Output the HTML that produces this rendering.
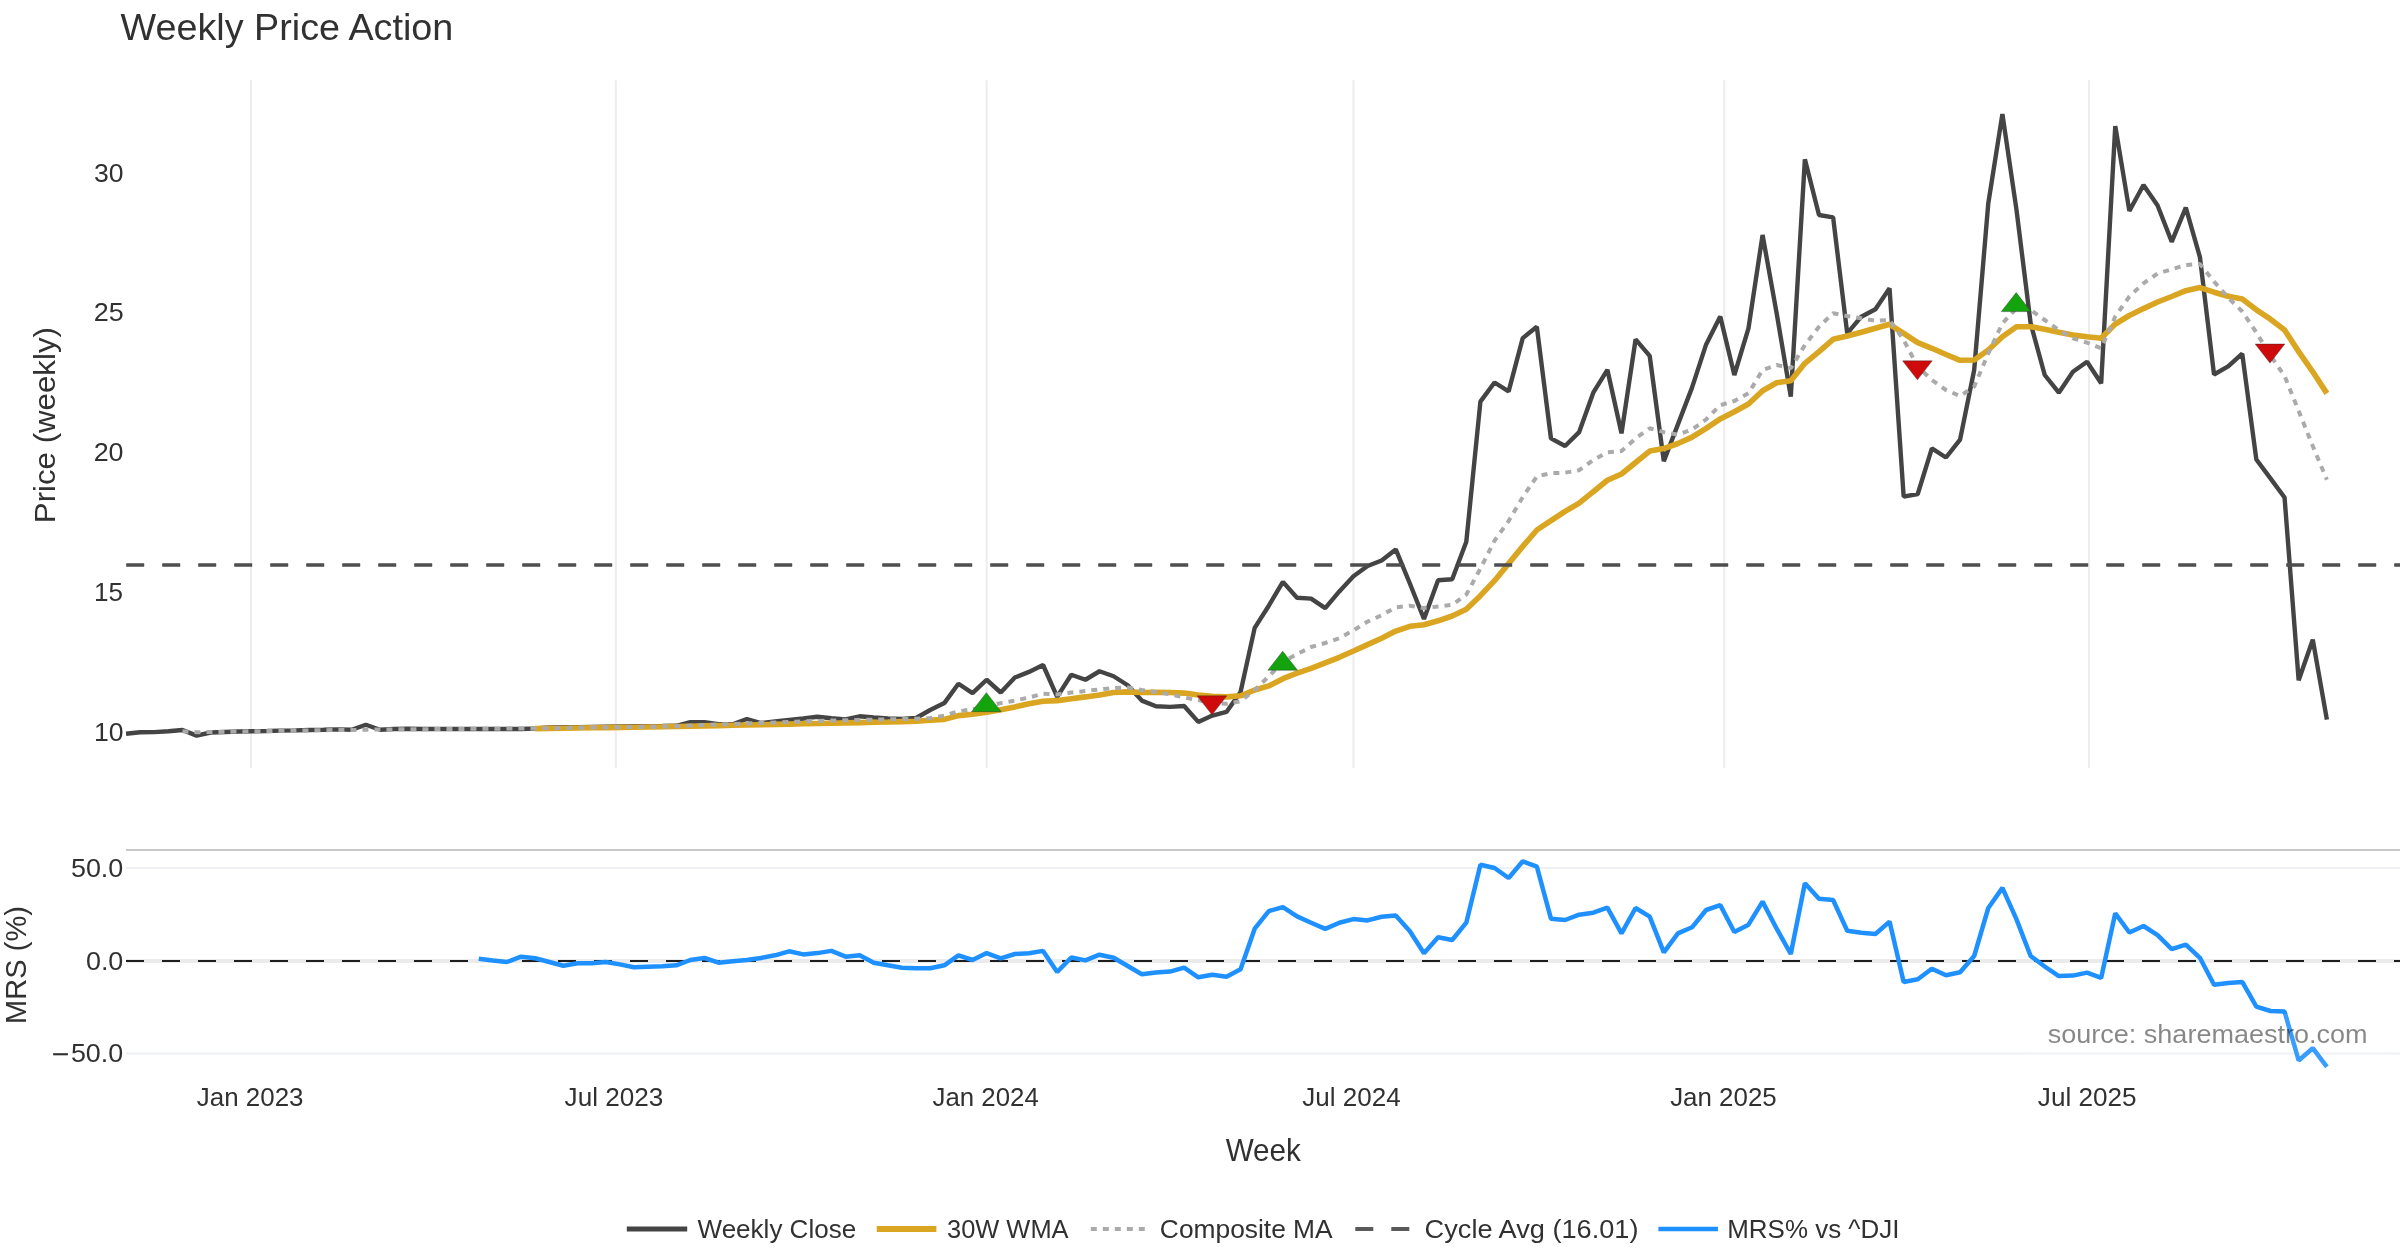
<!DOCTYPE html>
<html><head><meta charset="utf-8"><title>Weekly Price Action</title>
<style>
html,body{margin:0;padding:0;background:#fff;}
body{width:2400px;height:1260px;overflow:hidden;}
svg{display:block;will-change:transform;}
text{font-family:"Liberation Sans",sans-serif;}
</style></head>
<body>
<svg width="2400" height="1260" viewBox="0 0 2400 1260">
<rect x="0" y="0" width="2400" height="1260" fill="#ffffff"/>
<line x1="251.00" y1="80.2" x2="251.00" y2="768" stroke="#ececf1" stroke-width="2"/>
<line x1="615.79" y1="80.2" x2="615.79" y2="768" stroke="#ececf1" stroke-width="2"/>
<line x1="986.62" y1="80.2" x2="986.62" y2="768" stroke="#ececf1" stroke-width="2"/>
<line x1="1353.43" y1="80.2" x2="1353.43" y2="768" stroke="#ececf1" stroke-width="2"/>
<line x1="1724.26" y1="80.2" x2="1724.26" y2="768" stroke="#ececf1" stroke-width="2"/>
<line x1="2089.05" y1="80.2" x2="2089.05" y2="768" stroke="#ececf1" stroke-width="2"/>
<line x1="126" y1="868.1" x2="2400" y2="868.1" stroke="#eef0f3" stroke-width="2"/>
<line x1="126" y1="1053.6" x2="2400" y2="1053.6" stroke="#eef0f3" stroke-width="2"/>
<line x1="126" y1="961" x2="2400" y2="961" stroke="#ebebeb" stroke-width="4"/>
<line x1="126" y1="850" x2="2400" y2="850" stroke="#c8c8c8" stroke-width="2"/>
<polyline points="126.05,733.75 140.16,732.25 154.27,732.10 168.37,731.25 182.48,730.00 196.59,735.60 210.70,732.50 224.81,732.00 238.91,731.50 253.02,731.25 267.13,731.00 281.24,730.60 295.34,730.40 309.45,730.00 323.56,729.75 337.67,729.40 351.78,729.75 365.88,724.75 379.99,729.75 394.10,729.00 408.21,728.75 422.32,729.00 436.42,729.00 450.53,729.00 464.64,729.00 478.75,729.00 492.86,729.00 506.96,729.00 521.07,729.00 535.18,728.50 549.29,727.50 563.39,727.30 577.50,727.10 591.61,726.90 605.72,726.70 619.83,726.50 633.93,726.30 648.04,726.10 662.15,726.00 676.26,725.80 690.37,722.20 704.47,722.20 718.58,724.20 732.69,724.20 746.80,719.00 760.91,723.00 775.01,721.50 789.12,720.00 803.23,718.50 817.34,716.80 831.44,718.30 845.55,719.50 859.66,716.30 873.77,717.50 887.88,718.50 901.98,719.00 916.09,718.00 930.20,710.00 944.31,703.10 958.42,683.75 972.52,693.10 986.63,679.75 1000.74,692.50 1014.85,677.50 1028.96,671.90 1043.06,665.00 1057.17,696.90 1071.28,674.75 1085.39,679.75 1099.50,671.25 1113.60,676.25 1127.71,685.25 1141.82,700.60 1155.93,706.25 1170.03,706.90 1184.14,706.00 1198.25,721.90 1212.36,715.60 1226.47,711.90 1240.57,692.00 1254.68,627.90 1268.79,605.70 1282.90,581.90 1297.01,597.80 1311.11,598.60 1325.22,608.10 1339.33,591.40 1353.44,576.30 1367.55,566.00 1381.65,560.50 1395.76,549.40 1409.87,583.50 1423.98,619.00 1438.08,580.30 1452.19,579.20 1466.30,541.80 1480.41,401.60 1494.52,382.50 1508.62,391.40 1522.73,338.10 1536.84,326.70 1550.95,438.40 1565.06,446.00 1579.16,432.10 1593.27,392.70 1607.38,369.80 1621.49,433.30 1635.60,339.40 1649.70,355.90 1663.81,461.30 1677.92,424.40 1692.03,387.60 1706.13,344.40 1720.24,316.60 1734.35,375.00 1748.46,328.30 1762.57,235.00 1776.67,313.30 1790.78,396.70 1804.89,159.30 1819.00,215.00 1833.11,217.30 1847.21,333.30 1861.32,316.70 1875.43,309.30 1889.54,288.30 1903.65,496.70 1917.75,494.00 1931.86,448.30 1945.97,457.50 1960.08,439.60 1974.18,370.00 1988.29,203.30 2002.40,114.00 2016.51,210.00 2030.62,323.30 2044.72,375.00 2058.83,392.70 2072.94,371.70 2087.05,361.70 2101.16,383.30 2115.26,126.00 2129.37,211.00 2143.48,185.00 2157.59,205.50 2171.70,241.80 2185.80,207.60 2199.91,257.10 2214.02,374.50 2228.13,366.40 2242.24,353.70 2256.34,459.50 2270.45,478.40 2284.56,497.50 2298.67,680.30 2312.77,639.70 2326.88,719.70" fill="none" stroke="#444444" stroke-width="4.4" stroke-linejoin="bevel"/>
<polyline points="535.18,728.60 549.29,728.40 563.39,728.20 577.50,728.00 591.61,727.80 605.72,727.60 619.83,727.40 633.93,727.20 648.04,727.00 662.15,726.80 676.26,726.50 690.37,726.20 704.47,725.90 718.58,725.60 732.69,725.30 746.80,725.00 760.91,724.70 775.01,724.40 789.12,724.10 803.23,723.80 817.34,723.50 831.44,723.20 845.55,722.90 859.66,722.60 873.77,722.30 887.88,722.00 901.98,721.60 916.09,721.20 930.20,720.30 944.31,719.40 958.42,715.60 972.52,714.20 986.63,712.25 1000.74,709.75 1014.85,706.90 1028.96,703.75 1043.06,701.25 1057.17,700.60 1071.28,698.75 1085.39,696.90 1099.50,695.00 1113.60,692.50 1127.71,691.90 1141.82,692.50 1155.93,692.25 1170.03,692.50 1184.14,693.10 1198.25,695.00 1212.36,696.25 1226.47,696.90 1240.57,695.80 1254.68,690.00 1268.79,685.90 1282.90,678.70 1297.01,673.20 1311.11,668.40 1325.22,662.90 1339.33,657.30 1353.44,651.00 1367.55,644.60 1381.65,638.30 1395.76,631.10 1409.87,626.30 1423.98,624.80 1438.08,620.80 1452.19,616.00 1466.30,609.20 1480.41,595.70 1494.52,580.70 1508.62,563.60 1522.73,546.40 1536.84,530.00 1550.95,520.70 1565.06,511.40 1579.16,503.20 1593.27,491.70 1607.38,480.30 1621.49,474.00 1635.60,462.50 1649.70,451.10 1663.81,448.60 1677.92,443.50 1692.03,437.10 1706.13,428.30 1720.24,418.90 1734.35,411.70 1748.46,404.00 1762.57,390.70 1776.67,382.70 1790.78,380.70 1804.89,363.30 1819.00,351.70 1833.11,339.30 1847.21,336.00 1861.32,332.30 1875.43,328.30 1889.54,324.30 1903.65,333.30 1917.75,342.70 1931.86,348.30 1945.97,354.50 1960.08,360.30 1974.18,360.00 1988.29,350.00 2002.40,336.70 2016.51,326.70 2030.62,326.70 2044.72,329.30 2058.83,332.30 2072.94,335.00 2087.05,336.70 2101.16,338.30 2115.26,324.00 2129.37,315.50 2143.48,308.60 2157.59,302.00 2171.70,296.50 2185.80,290.70 2199.91,287.60 2214.02,292.20 2228.13,296.30 2242.24,299.00 2256.34,309.80 2270.45,319.20 2284.56,330.00 2298.67,351.60 2312.77,371.80 2326.88,393.40" fill="none" stroke="#DAA520" stroke-width="5.6" stroke-linejoin="bevel"/>
<polyline points="182.48,731.25 196.59,732.25 210.70,732.00 224.81,731.80 238.91,731.50 253.02,731.30 267.13,731.00 281.24,730.80 295.34,730.60 309.45,730.40 323.56,730.20 337.67,730.00 351.78,730.00 365.88,729.75 379.99,729.50 394.10,729.40 408.21,729.30 422.32,729.20 436.42,729.10 450.53,729.00 464.64,728.90 478.75,728.80 492.86,728.70 506.96,728.60 521.07,728.50 535.18,728.40 549.29,728.20 563.39,728.00 577.50,727.80 591.61,727.60 605.72,727.40 619.83,727.20 633.93,727.00 648.04,726.80 662.15,726.60 676.26,726.20 690.37,725.60 704.47,725.00 718.58,724.50 732.69,724.00 746.80,723.50 760.91,723.00 775.01,722.50 789.12,722.00 803.23,721.25 817.34,720.90 831.44,720.60 845.55,720.30 859.66,720.00 873.77,719.70 887.88,719.40 901.98,719.10 916.09,718.75 930.20,718.00 944.31,715.60 958.42,711.25 972.52,709.40 986.63,706.25 1000.74,703.10 1014.85,700.60 1028.96,697.50 1043.06,693.75 1057.17,694.40 1071.28,692.50 1085.39,691.00 1099.50,689.40 1113.60,688.10 1127.71,687.50 1141.82,690.00 1155.93,691.90 1170.03,694.40 1184.14,697.50 1198.25,700.00 1212.36,703.10 1226.47,703.75 1240.57,701.25 1254.68,690.00 1268.79,676.30 1282.90,662.00 1297.01,654.10 1311.11,647.00 1325.22,643.00 1339.33,638.30 1353.44,630.30 1367.55,621.60 1381.65,615.20 1395.76,607.30 1409.87,605.70 1423.98,608.10 1438.08,606.50 1452.19,604.90 1466.30,594.60 1480.41,568.60 1494.52,540.70 1508.62,521.10 1522.73,497.10 1536.84,476.40 1550.95,473.20 1565.06,472.70 1579.16,470.20 1593.27,460.00 1607.38,452.40 1621.49,451.10 1635.60,438.40 1649.70,428.30 1663.81,432.10 1677.92,434.60 1692.03,429.50 1706.13,419.40 1720.24,405.20 1734.35,401.00 1748.46,393.30 1762.57,370.00 1776.67,365.00 1790.78,368.30 1804.89,345.00 1819.00,326.70 1833.11,313.30 1847.21,316.00 1861.32,318.30 1875.43,320.70 1889.54,320.00 1903.65,340.00 1917.75,366.70 1931.86,380.00 1945.97,390.00 1960.08,396.00 1974.18,386.70 1988.29,353.30 2002.40,323.30 2016.51,308.30 2030.62,310.00 2044.72,320.00 2058.83,330.00 2072.94,338.30 2087.05,342.70 2101.16,348.30 2115.26,316.50 2129.37,296.50 2143.48,283.30 2157.59,273.50 2171.70,269.30 2185.80,265.00 2199.91,264.00 2214.02,281.50 2228.13,297.60 2242.24,311.50 2256.34,332.50 2270.45,355.50 2284.56,376.00 2298.67,411.00 2312.77,446.00 2326.88,479.80" fill="none" stroke="#aaaaaa" stroke-width="4" stroke-dasharray="6,6" stroke-linejoin="bevel"/>
<line x1="126.2" y1="565.0" x2="2400" y2="565.0" stroke="#4e4e4e" stroke-width="3.6" stroke-dasharray="18,18"/>
<path d="M971.60,711.65 L1001.20,711.65 L986.40,692.65 Z" fill="#13a40d" stroke="#2a2a2a" stroke-opacity="0.45" stroke-width="0.9" stroke-linejoin="miter"/>
<path d="M1197.20,695.85 L1226.80,695.85 L1212.00,714.85 Z" fill="#cf0a0a" stroke="#2a2a2a" stroke-opacity="0.45" stroke-width="0.9" stroke-linejoin="miter"/>
<path d="M1267.90,670.20 L1297.50,670.20 L1282.70,651.20 Z" fill="#13a40d" stroke="#2a2a2a" stroke-opacity="0.45" stroke-width="0.9" stroke-linejoin="miter"/>
<path d="M1902.60,360.85 L1932.20,360.85 L1917.40,379.85 Z" fill="#cf0a0a" stroke="#2a2a2a" stroke-opacity="0.45" stroke-width="0.9" stroke-linejoin="miter"/>
<path d="M2001.40,311.60 L2031.00,311.60 L2016.20,292.60 Z" fill="#13a40d" stroke="#2a2a2a" stroke-opacity="0.45" stroke-width="0.9" stroke-linejoin="miter"/>
<path d="M2255.20,344.05 L2284.80,344.05 L2270.00,363.05 Z" fill="#cf0a0a" stroke="#2a2a2a" stroke-opacity="0.45" stroke-width="0.9" stroke-linejoin="miter"/>
<line x1="126" y1="961" x2="2400" y2="961" stroke="#1e1e1e" stroke-width="2" stroke-dasharray="18,18"/>
<polyline points="478.75,958.70 492.86,960.40 506.96,962.00 521.07,956.70 535.18,958.30 549.29,962.00 563.39,965.70 577.50,963.30 591.61,963.30 605.72,962.00 619.83,964.40 633.93,967.30 648.04,966.70 662.15,966.30 676.26,965.30 690.37,960.00 704.47,958.00 718.58,962.70 732.69,961.30 746.80,960.00 760.91,958.00 775.01,955.30 789.12,951.30 803.23,954.40 817.34,953.10 831.44,950.90 845.55,956.70 859.66,955.30 873.77,962.70 887.88,965.30 901.98,967.70 916.09,968.30 930.20,968.30 944.31,965.30 958.42,955.30 972.52,960.00 986.63,953.10 1000.74,958.40 1014.85,954.00 1028.96,953.30 1043.06,950.90 1057.17,972.00 1071.28,957.50 1085.39,960.40 1099.50,954.70 1113.60,957.70 1127.71,966.00 1141.82,974.30 1155.93,972.40 1170.03,971.60 1184.14,967.60 1198.25,977.30 1212.36,974.70 1226.47,976.70 1240.57,969.30 1254.68,928.70 1268.79,911.10 1282.90,907.10 1297.01,916.40 1311.11,922.70 1325.22,928.90 1339.33,922.70 1353.44,919.10 1367.55,920.40 1381.65,916.70 1395.76,915.60 1409.87,931.30 1423.98,953.30 1438.08,937.30 1452.19,940.00 1466.30,922.70 1480.41,864.70 1494.52,868.00 1508.62,878.00 1522.73,861.30 1536.84,866.70 1550.95,918.70 1565.06,920.00 1579.16,914.70 1593.27,912.70 1607.38,907.60 1621.49,933.30 1635.60,908.00 1649.70,916.70 1663.81,952.40 1677.92,933.40 1692.03,927.30 1706.13,910.00 1720.24,905.10 1734.35,932.00 1748.46,924.70 1762.57,901.60 1776.67,928.70 1790.78,954.00 1804.89,883.30 1819.00,898.70 1833.11,900.00 1847.21,930.70 1861.32,932.70 1875.43,934.00 1889.54,921.60 1903.65,982.00 1917.75,979.30 1931.86,968.70 1945.97,975.30 1960.08,972.20 1974.18,956.00 1988.29,908.00 2002.40,887.90 2016.51,919.40 2030.62,956.00 2044.72,966.50 2058.83,976.10 2072.94,975.60 2087.05,972.60 2101.16,977.90 2115.26,913.30 2129.37,932.50 2143.48,926.00 2157.59,935.10 2171.70,949.10 2185.80,944.70 2199.91,957.80 2214.02,984.80 2228.13,983.10 2242.24,981.90 2256.34,1006.70 2270.45,1011.00 2284.56,1011.60 2298.67,1060.50 2312.77,1048.20 2326.88,1066.90" fill="none" stroke="#1E90FF" stroke-width="4.5" stroke-linejoin="bevel"/>
<rect x="2026" y="1014" width="364" height="58" fill="#ffffff" fill-opacity="0.12"/>
<text x="2047.74" y="1043.10" font-size="25.5" fill="#000000" textLength="319.84" lengthAdjust="spacingAndGlyphs" fill-opacity="0.47">source: sharemaestro.com</text>
<text x="120.56" y="39.80" font-size="36.4" fill="#313131" textLength="332.71" lengthAdjust="spacingAndGlyphs">Weekly Price Action</text>
<text x="93.99" y="181.70" font-size="25" fill="#313131" textLength="29.55" lengthAdjust="spacingAndGlyphs">30</text>
<text x="93.65" y="321.45" font-size="25" fill="#313131" textLength="29.99" lengthAdjust="spacingAndGlyphs">25</text>
<text x="93.66" y="461.20" font-size="25" fill="#313131" textLength="29.90" lengthAdjust="spacingAndGlyphs">20</text>
<text x="94.02" y="600.95" font-size="25" fill="#313131" textLength="28.98" lengthAdjust="spacingAndGlyphs">15</text>
<text x="93.98" y="740.70" font-size="25" fill="#313131" textLength="29.56" lengthAdjust="spacingAndGlyphs">10</text>
<text x="70.92" y="876.70" font-size="25" fill="#313131" textLength="52.44" lengthAdjust="spacingAndGlyphs">50.0</text>
<text x="85.95" y="969.60" font-size="25" fill="#313131" textLength="37.40" lengthAdjust="spacingAndGlyphs">0.0</text>
<rect x="53.1" y="1053.2" width="14.8" height="2.1" fill="#313131"/>
<text x="70.92" y="1062.00" font-size="25" fill="#313131" textLength="52.33" lengthAdjust="spacingAndGlyphs">50.0</text>
<text x="196.89" y="1106.00" font-size="25" fill="#313131" textLength="106.65" lengthAdjust="spacingAndGlyphs">Jan 2023</text>
<text x="564.62" y="1106.00" font-size="25" fill="#313131" textLength="98.81" lengthAdjust="spacingAndGlyphs">Jul 2023</text>
<text x="932.51" y="1106.00" font-size="25" fill="#313131" textLength="106.26" lengthAdjust="spacingAndGlyphs">Jan 2024</text>
<text x="1302.26" y="1106.00" font-size="25" fill="#313131" textLength="98.42" lengthAdjust="spacingAndGlyphs">Jul 2024</text>
<text x="1670.15" y="1106.00" font-size="25" fill="#313131" textLength="106.60" lengthAdjust="spacingAndGlyphs">Jan 2025</text>
<text x="2037.89" y="1106.00" font-size="25" fill="#313131" textLength="98.76" lengthAdjust="spacingAndGlyphs">Jul 2025</text>
<text x="1225.65" y="1160.90" font-size="30.5" fill="#313131" textLength="75.32" lengthAdjust="spacingAndGlyphs">Week</text>
<text transform="translate(54.80,523.16) rotate(-90)" x="0" y="0" font-size="30.2" fill="#313131" textLength="196.09" lengthAdjust="spacingAndGlyphs">Price (weekly)</text>
<text transform="translate(25.90,1023.88) rotate(-90)" x="0" y="0" font-size="30.2" fill="#313131" textLength="117.79" lengthAdjust="spacingAndGlyphs">MRS (%)</text>
<line x1="626.8" y1="1228.9" x2="687.2" y2="1228.9" stroke="#444444" stroke-width="5"/>
<text x="697.57" y="1237.90" font-size="25.4" fill="#313131" textLength="158.57" lengthAdjust="spacingAndGlyphs">Weekly Close</text>
<line x1="876.8" y1="1228.9" x2="936.4" y2="1228.9" stroke="#DAA520" stroke-width="6"/>
<text x="947.03" y="1237.90" font-size="25.4" fill="#313131" textLength="121.51" lengthAdjust="spacingAndGlyphs">30W WMA</text>
<line x1="1090.8" y1="1228.9" x2="1150" y2="1228.9" stroke="#aaaaaa" stroke-width="4" stroke-dasharray="6,6"/>
<text x="1159.86" y="1237.90" font-size="25.4" fill="#313131" textLength="172.79" lengthAdjust="spacingAndGlyphs">Composite MA</text>
<line x1="1355.3" y1="1228.9" x2="1410" y2="1228.9" stroke="#5a5a5a" stroke-width="4" stroke-dasharray="18,18"/>
<text x="1424.61" y="1237.90" font-size="25.4" fill="#313131" textLength="213.86" lengthAdjust="spacingAndGlyphs">Cycle Avg (16.01)</text>
<line x1="1658.4" y1="1228.9" x2="1718" y2="1228.9" stroke="#1E90FF" stroke-width="4.5"/>
<text x="1727.27" y="1237.90" font-size="25.4" fill="#313131" textLength="172.12" lengthAdjust="spacingAndGlyphs">MRS% vs ^DJI</text>
</svg>
</body></html>
